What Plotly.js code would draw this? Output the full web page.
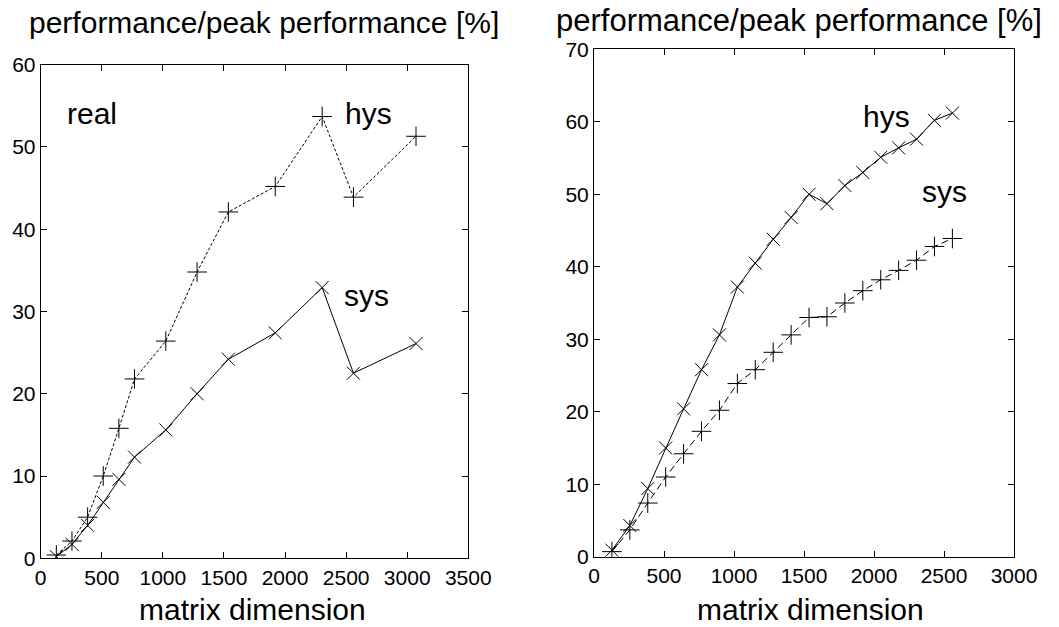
<!DOCTYPE html>
<html>
<head>
<meta charset="utf-8">
<script src="https://cdn.plot.ly/plotly-3.0.1.min.js"></script>
<style>html,body{margin:0;padding:0;background:#fff;}#chart{width:1059px;height:627px;}</style>
</head>
<body>
<div id="chart"></div>
<script>
// Left panel ("real")
const leftDims = [128, 256, 384, 512, 640, 768, 1024, 1280, 1536, 1920, 2304, 2560, 3072];
const leftHys  = [0.4, 2.1, 5.0, 10.0, 15.8, 21.8, 26.4, 34.8, 42.1, 45.2, 53.7, 43.9, 51.3];
const leftSys  = [0.2, 1.7, 4.0, 6.8, 9.6, 12.3, 15.6, 20.0, 24.2, 27.4, 32.9, 22.5, 26.1];

// Right panel
const rightDims = [128, 256, 384, 512, 640, 768, 896, 1024, 1152, 1280, 1408, 1536, 1664, 1792, 1920, 2048, 2176, 2304, 2432, 2560];
const rightHys  = [0.9, 4.3, 9.4, 15.0, 20.4, 25.8, 30.6, 37.2, 40.5, 43.8, 46.8, 50.0, 48.7, 51.2, 53.0, 55.1, 56.4, 57.6, 60.2, 61.2];
const rightSys  = [0.7, 3.7, 7.4, 11.0, 14.2, 17.3, 20.2, 23.9, 25.8, 28.2, 30.6, 33.0, 33.1, 35.0, 36.7, 38.2, 39.5, 40.9, 42.8, 43.9];

const leftXTicks  = [0, 500, 1000, 1500, 2000, 2500, 3000, 3500];
const leftYTicks  = [0, 10, 20, 30, 40, 50, 60];
const rightXTicks = [0, 500, 1000, 1500, 2000, 2500, 3000];
const rightYTicks = [0, 10, 20, 30, 40, 50, 60, 70];

const yTitle = 'performance/peak performance [%]';
const xTitle = 'matrix dimension';

const W = 1059, H = 627;
const px = v => v / W;
const py = v => 1 - v / H;

const FONT = 'Liberation Sans, Arial, Helvetica, sans-serif';
const plusMarker = {symbol: 'cross-thin-open', size: 14, color: 'black', line: {color: 'black', width: 1}};
const xMarker = {symbol: 'x-thin-open', size: 13, color: 'black', line: {color: 'black', width: 1}};

const traces = [
  {x: leftDims, y: leftHys, xaxis: 'x', yaxis: 'y', mode: 'lines+markers',
   line: {color: 'black', width: 1, dash: '3px,2px'}, marker: plusMarker, name: 'hys'},
  {x: leftDims, y: leftSys, xaxis: 'x', yaxis: 'y', mode: 'lines+markers',
   line: {color: 'black', width: 1}, marker: xMarker, name: 'sys'},
  {x: rightDims, y: rightHys, xaxis: 'x2', yaxis: 'y2', mode: 'lines+markers',
   line: {color: 'black', width: 1}, marker: xMarker, name: 'hys'},
  {x: rightDims, y: rightSys, xaxis: 'x2', yaxis: 'y2', mode: 'lines+markers',
   line: {color: 'black', width: 1, dash: '7px,4px'}, marker: plusMarker, name: 'sys'}
];

function axis(domain, range, ticks, anchor) {
  return {
    domain: domain, range: range, anchor: anchor,
    tickmode: 'array', tickvals: ticks, ticktext: ticks.map(String),
    ticks: 'inside', ticklen: 6, tickwidth: 1, tickcolor: 'black',
    showline: true, linecolor: 'black', linewidth: 1, mirror: 'ticks',
    showgrid: false, zeroline: false,
    tickfont: {family: FONT, size: 21, color: 'black'}
  };
}

const xa1 = axis([px(40.7), px(468.3)], [0, 3500], leftXTicks, 'y');
const ya1 = axis([py(558.3), py(64.7)], [0, 60], leftYTicks, 'x');
const xa2 = axis([px(594), px(1014)], [0, 3000], rightXTicks, 'y2');
const ya2 = axis([py(556.7), py(49.3)], [0, 70], rightYTicks, 'x2');

function ann(text, x, y, size) {
  return {text: text, xref: 'paper', yref: 'paper', x: px(x), y: py(y),
          xanchor: 'center', yanchor: 'middle', showarrow: false,
          font: {family: FONT, size: size || 30, color: 'black'}};
}

const layout = {
  width: W, height: H,
  margin: {l: 0, r: 0, t: 0, b: 0},
  paper_bgcolor: 'white', plot_bgcolor: 'white',
  showlegend: false,
  xaxis: xa1, yaxis: ya1, xaxis2: xa2, yaxis2: ya2,
  annotations: [
    ann(yTitle, 264, 22),
    ann(yTitle, 799, 20, 31),
    ann(xTitle, 252, 609),
    ann(xTitle, 810, 609),
    ann('real', 92, 113),
    ann('hys', 368, 113),
    ann('sys', 366, 295),
    ann('hys', 887, 117),
    ann('sys', 944, 191)
  ]
};

Plotly.newPlot('chart', traces, layout, {staticPlot: true, displayModeBar: false});
</script>
</body>
</html>
